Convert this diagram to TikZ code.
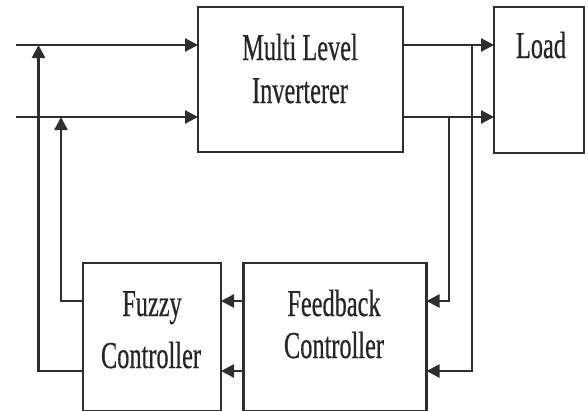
\documentclass[tikz,border=0pt]{standalone}
\usepackage{fontspec}
\setmainfont{Liberation Serif}[FakeStretch=0.64,FakeBold=0.5]
\usetikzlibrary{arrows.meta}
\definecolor{ink}{HTML}{2E2E2E}
\begin{document}
\begin{tikzpicture}[x=1pt,y=-1pt,
  block/.style={draw=ink,line width=2.6pt,inner sep=0pt,outer sep=0pt,line join=miter},
  lbl/.style={anchor=base,inner sep=0pt,text=black!85,font=\fontsize{38}{42}\selectfont},
  wire/.style={draw=ink,line width=2.6pt,line join=miter},
  arr/.style={wire,-{Triangle[length=13pt,width=13pt]}}]
\useasboundingbox (0,0) rectangle (588,410);

% blocks
\node[block,minimum width=205pt,minimum height=145pt] (mli) at (300.5,79.5) {};
\node[block,minimum width=90pt,minimum height=146pt] (load) at (539,80) {};
\node[block,minimum width=138pt,minimum height=148pt] (fz) at (152,337) {};
\node[block,minimum width=183pt,minimum height=148pt] (fb) at (335,337) {};

% block texts
\node[lbl] (mliA) at (300,60) {Multi Level};
\node[lbl] (mliB) at (300,103) {Inverterer};
\node[lbl] (loadA) at (541,58) {Load};
\node[lbl] (fzA) at (152,316) {Fuzzy};
\node[lbl] (fzB) at (151,368) {Controller};
\node[lbl] (fbA) at (334,316) {Feedback};
\node[lbl] (fbB) at (334,358) {Controller};

% reference points
\coordinate (in1) at (16,45);
\coordinate (in2) at (16,117);
\coordinate (j1) at (38.5,45);
\coordinate (j2) at (61,117);
\coordinate (t1) at (472,45);
\coordinate (t2) at (449,117);
\coordinate (ya) at (0,301);
\coordinate (yb) at (0,371);

% inputs to the inverter
\draw[arr] (in1) -- (in1 -| mli.west);
\draw[arr] (in2) -- (in2 -| mli.west);
% inverter to load
\draw[arr] (in1 -| mli.east) -- (in1 -| load.west);
\draw[arr] (in2 -| mli.east) -- (in2 -| load.west);
% taps back to the feedback controller
\draw[arr] (t2) |- (fb.east |- ya);
\draw[arr] (t1) |- (fb.east |- yb);
% feedback controller to fuzzy controller
\draw[arr] (fb.west |- ya) -- (fz.east |- ya);
\draw[arr] (fb.west |- yb) -- (fz.east |- yb);
% fuzzy controller back to the inputs
\draw[arr] (fz.west |- ya) -| (j2);
\draw[arr] (fz.west |- yb) -| (j1);
\end{tikzpicture}
\end{document}
